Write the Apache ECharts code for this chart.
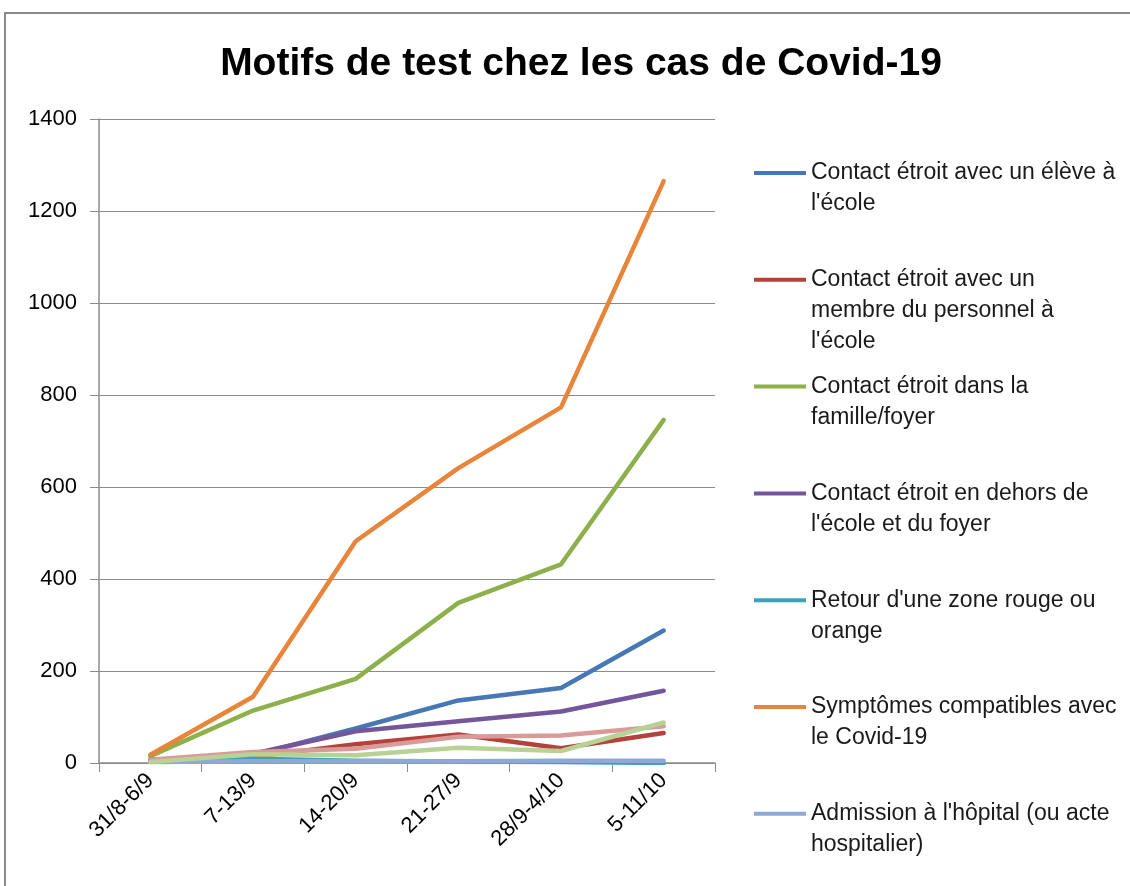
<!DOCTYPE html>
<html>
<head>
<meta charset="utf-8">
<title>Motifs de test chez les cas de Covid-19</title>
<script src="https://cdn.jsdelivr.net/npm/echarts@6/dist/echarts.min.js"></script>
<style>
  html, body { margin: 0; padding: 0; background: #fff; }
  #chart { width: 1130px; height: 886px; }
</style>
</head>
<body>
<div id="chart"></div>
<script>
  // semaines
  var weeks = ['31/8-6/9', '7-13/9', '14-20/9', '21-27/9', '28/9-4/10', '5-11/10'];
  var yTicks = [0, 200, 400, 600, 800, 1000, 1200, 1400];

  // valeurs
  var eleveEcole = [5, 17, 75, 136, 163, 288];
  var personnelEcole = [4, 13, 41, 62, 32, 65];
  var familleFoyer = [15, 114, 183, 348, 432, 746];
  var horsEcoleFoyer = [6, 20, 69, 91, 112, 157];
  var zoneRouge = [8, 9, 5, 3, 2, 0];
  var symptomes = [18, 144, 482, 641, 773, 1265];
  var hopital = [2, 4, 4, 4, 5, 5];
  // deux séries dont la légende est coupée
  var serie8 = [7, 24, 31, 57, 60, 80];
  var serie9 = [2, 19, 17, 33, 26, 88];

  var series = [
    {name: "Contact étroit avec un élève à\nl'école", data: eleveEcole, color: '#4777B4'},
    {name: "Contact étroit avec un\nmembre du personnel à\nl'école", data: personnelEcole, color: '#B5413D'},
    {name: "Contact étroit dans la\nfamille/foyer", data: familleFoyer, color: '#8DB04A'},
    {name: "Contact étroit en dehors de\nl'école et du foyer", data: horsEcoleFoyer, color: '#74569A'},
    {name: "Retour d'une zone rouge ou\norange", data: zoneRouge, color: '#3FA0BC'},
    {name: "Symptômes compatibles avec\nle Covid-19", data: symptomes, color: '#E9853A'},
    {name: "Admission à l'hôpital (ou acte\nhospitalier)", data: hopital, color: '#8FA9D6'},
    {name: "Série 8", data: serie8, color: '#D99A98'},
    {name: "Série 9", data: serie9, color: '#B8D194'}
  ];

  // une légende par entrée, pour garder l'espacement régulier d'Excel
  var lineH = 31;
  var legends = [];
  for (var i = 0; i < 7; i++) {
    var n = series[i].name.split('\n').length;
    var iconY = 173 + 106.8 * i;
    legends.push({
      data: [series[i].name],
      orient: 'vertical',
      left: 754,
      top: iconY - (2 * n - 1) * lineH / 2,
      padding: 0,
      icon: 'rect',
      itemWidth: 52,
      itemHeight: 4,
      selectedMode: false,
      // lignes vides devant pour que l'icône tombe sur la première ligne
      formatter: (function (k) {
        return function (name) {
          return new Array(k).join('\n') + name;
        };
      })(n),
      textStyle: {
        fontFamily: 'Liberation Sans',
        fontSize: 23,
        color: '#1a1a1a',
        lineHeight: lineH
      }
    });
  }

  var chart = echarts.init(document.getElementById('chart'));
  chart.setOption({
    animation: false,
    title: {
      text: 'Motifs de test chez les cas de Covid-19',
      left: 576,
      textAlign: 'center',
      top: 40,
      textStyle: {
        fontFamily: 'Liberation Sans, Arial, sans-serif',
        fontWeight: 'bold',
        fontSize: 39,
        color: '#000'
      }
    },
    graphic: [
      {type: 'line', shape: {x1: 4, y1: 13, x2: 1130, y2: 13}, style: {stroke: '#8a8a8a', lineWidth: 2}},
      {type: 'line', shape: {x1: 5, y1: 13, x2: 5, y2: 886}, style: {stroke: '#8a8a8a', lineWidth: 2}}
    ],
    legend: legends,
    grid: {left: 99, right: 415, top: 119, bottom: 123},
    xAxis: {
      type: 'category',
      data: weeks,
      boundaryGap: true,
      axisLine: {lineStyle: {color: '#8c8c8c', width: 1.5}},
      axisTick: {show: true, length: 9, alignWithLabel: false, lineStyle: {color: '#8c8c8c'}},
      axisLabel: {
        rotate: 45,
        margin: 14,
        fontFamily: 'Liberation Sans',
        fontSize: 22,
        color: '#000'
      }
    },
    yAxis: {
      type: 'value',
      min: yTicks[0],
      max: yTicks[yTicks.length - 1],
      interval: yTicks[1] - yTicks[0],
      axisLine: {show: true, lineStyle: {color: '#8c8c8c', width: 1.5}},
      axisTick: {show: true, length: 9, lineStyle: {color: '#8c8c8c'}},
      splitLine: {lineStyle: {color: '#8c8c8c', width: 1.2}},
      axisLabel: {
        margin: 22,
        fontFamily: 'Liberation Sans',
        fontSize: 22,
        color: '#000',
        formatter: function (v) { return String(v); }
      }
    },
    series: series.map(function (s) {
      return {
        name: s.name,
        type: 'line',
        data: s.data,
        color: s.color,
        symbol: 'none',
        lineStyle: {width: 4.5, color: s.color, cap: 'round', join: 'round'}
      };
    })
  });
</script>
</body>
</html>
